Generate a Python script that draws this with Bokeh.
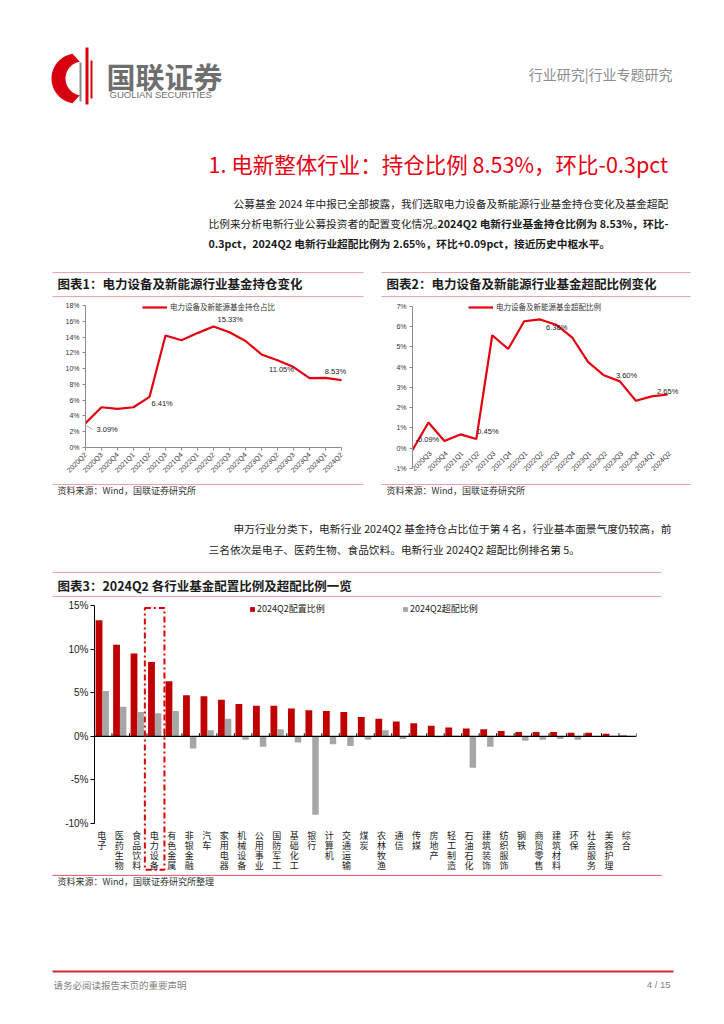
import numpy as np
from bokeh.plotting import figure
from bokeh.models import Range1d, FixedTicker, Legend, LegendItem, ColumnDataSource
from bokeh.layouts import column, row
from bokeh.embed import file_html
from bokeh.resources import INLINE
from bokeh.core.properties import value

# ---------------- data ----------------
quarters = ["2020Q2", "2020Q3", "2020Q4", "2021Q1", "2021Q2", "2021Q3", "2021Q4",
            "2022Q1", "2022Q2", "2022Q3", "2022Q4", "2023Q1", "2023Q2", "2023Q3",
            "2023Q4", "2024Q1", "2024Q2"]
holding = [3.09, 5.1, 4.9, 5.1, 6.41, 14.2, 13.6, 14.5, 15.33, 14.6, 13.5, 11.8,
           11.05, 10.2, 8.8, 8.83, 8.53]
overweight = [-0.09, 1.27, 0.35, 0.68, 0.45, 5.58, 4.9, 6.27, 6.36, 6.1, 5.48, 4.26,
              3.60, 3.3, 2.34, 2.56, 2.65]
holding_labels = {0: "3.09%", 4: "6.41%", 8: "15.33%", 12: "11.05%", 16: "8.53%"}
overweight_labels = {0: "-0.09%", 4: "0.45%", 8: "6.36%", 12: "3.60%", 16: "2.65%"}

industries = ["电子", "医药生物", "食品饮料", "电力设备", "有色金属", "非银金融", "汽车",
              "家用电器", "机械设备", "公用事业", "国防军工", "基础化工", "银行", "计算机",
              "交通运输", "煤炭", "农林牧渔", "通信", "传媒", "房地产", "轻工制造",
              "石油石化", "建筑装饰", "纺织服饰", "钢铁", "商贸零售", "建筑材料", "环保",
              "社会服务", "美容护理", "综合"]
alloc_2024q2 = [13.3, 10.5, 9.5, 8.53, 6.3, 4.7, 4.6, 4.2, 3.7, 3.5, 3.5, 3.2, 3.0, 2.9,
                2.8, 2.2, 2.0, 1.7, 1.5, 1.2, 1.0, 0.9, 0.8, 0.6, 0.5, 0.5, 0.5, 0.4,
                0.4, 0.3, 0.1]
over_2024q2 = [5.2, 3.4, 2.8, 2.65, 2.9, -1.4, 0.7, 2.0, -0.4, -1.2, 0.8, -0.7, -9.0,
               -0.9, -1.1, -0.4, 0.7, -0.3, 0.05, -0.1, 0.05, -3.6, -1.2, 0.05, -0.5,
               -0.4, -0.3, -0.4, -0.05, 0.05, 0.02]
highlight = "电力设备"

# ---------------- style ----------------
RED_LINE = "#E3000F"
BAR_RED = "#C00000"
BAR_GRAY = "#A6A6A6"
PINK = "#E8A3AE"
CJK = "Noto Sans CJK SC"
LAT = "Liberation Sans"
W = 724


def canvas(top, bottom):
    p = figure(width=W, height=bottom - top, x_range=Range1d(0, W),
               y_range=Range1d(bottom, top), x_axis_type=None, y_axis_type=None,
               output_backend="svg", toolbar_location=None, min_border=0,
               frame_align=False)
    p.outline_line_color = None
    p.background_fill_color = "white"
    p.border_fill_color = "white"
    return p


def txt(p, x, y, s, size, color="#1a1a1a", align="left", bold=False, font=CJK):
    p.text(x=[x], y=[y], text=[s], text_font=value(font), text_font_size=f"{size}px",
           text_color=color, text_align=align, text_baseline="middle",
           text_font_style="bold" if bold else "normal")


def hline(p, x0, x1, y, color=PINK, width=1.0):
    p.line([x0, x1], [y, y], line_color=color, line_width=width)


# ---------------- section A: header ----------------
A = canvas(0, 297)
th = np.linspace(np.pi * 0.55, np.pi * 1.45, 48)
ox = 76 + 25 * np.cos(th)
oy = 78 - 25 * np.sin(th)
ix = 82 + 17 * np.cos(th[::-1])
iy = 78 - 17 * np.sin(th[::-1])
A.patch(np.r_[ox, ix], np.r_[oy, iy], fill_color="#D7000F", line_color=None)
A.quad(left=[79, 85, 90], right=[81, 88, 92], top=[62, 47, 60], bottom=[101, 104, 98],
       fill_color=["#8A8A8A", "#D7000F", "#D7000F"], line_color=None)
txt(A, 106, 75, "国联证券", 29, color="#6E6E6E", bold=True)
txt(A, 109, 94, "GUOLIAN SECURITIES", 9.5, color="#6E6E6E", font=LAT)
txt(A, 672, 73, "行业研究|行业专题研究", 14, color="#8C8C8C", align="right")

txt(A, 208, 163, "1. 电新整体行业：持仓比例 8.53%，环比-0.3pct", 21.5, color="#E60012")

txt(A, 233, 203, "公募基金 2024 年中报已全部披露，我们选取电力设备及新能源行业基金持仓变化及基金超配", 10.7)
txt(A, 208, 223, "比例来分析电新行业公募投资者的配置变化情况。", 10.7)
txt(A, 437, 223, "2024Q2 电新行业基金持仓比例为 8.53%，环比-", 10.7, bold=True)
txt(A, 208, 243, "0.3pct，2024Q2 电新行业超配比例为 2.65%，环比+0.09pct，接近历史中枢水平。", 10.7, bold=True)

hline(A, 52, 363, 272)
hline(A, 381, 690, 272)
txt(A, 57, 283, "图表1：电力设备及新能源行业基金持仓变化", 12.5, bold=True)
txt(A, 386, 283, "图表2：电力设备及新能源行业基金超配比例变化", 12.5, bold=True)
hline(A, 52, 363, 296)
hline(A, 381, 690, 296)

# ---------------- chart 1 ----------------
xq = list(range(len(quarters)))
p1 = figure(width=373, height=186, x_range=Range1d(0, 16.5), y_range=Range1d(0, 18.76),
            output_backend="svg", toolbar_location=None, min_border_left=85,
            min_border_right=24, min_border_top=2, min_border_bottom=36,
            frame_align=False)
p1.outline_line_color = None
p1.xgrid.visible = False
p1.ygrid.visible = False
r1 = p1.line(xq, holding, line_color=RED_LINE, line_width=2.2)
p1.yaxis.ticker = FixedTicker(ticks=list(range(0, 19, 2)))
p1.yaxis.major_label_overrides = {v: f"{v}%" for v in range(0, 19, 2)}
p1.yaxis.bounds = (0, 18)
p1.xaxis.ticker = FixedTicker(ticks=xq)
p1.xaxis.major_label_overrides = {i: q for i, q in enumerate(quarters)}
p1.xaxis.major_label_orientation = np.pi / 4
p1.xaxis.bounds = (0, 16)
for ax in (p1.xaxis[0], p1.yaxis[0]):
    ax.major_label_text_font = LAT
    ax.major_label_text_font_size = "7px"
    ax.major_label_text_color = "#333333"
    ax.axis_line_color = "#8C8C8C"
    ax.major_tick_line_color = "#8C8C8C"
    ax.major_tick_in = 0
    ax.major_tick_out = 3
    ax.minor_tick_line_color = None
    ax.major_label_standoff = 3

lab1 = ColumnDataSource(dict(
    x=list(holding_labels.keys()),
    y=[holding[i] for i in holding_labels],
    t=list(holding_labels.values()),
    xo=[11, 2, 4, 4, -6],
    yo=[6, 7, -7, 9, -9],
    al=["left", "left", "left", "center", "center"]))
p1.text(x="x", y="y", text="t", x_offset="xo", y_offset="yo", text_align="al",
        text_baseline="middle", text_font=value(LAT), text_font_size="7.5px",
        text_color="#1a1a1a", source=lab1)
p1.segment(x0=[0.05], y0=[holding[0] - 0.3], x1=[0.45], y1=[holding[0] - 0.8],
           line_color="#A0A0A0", line_width=1)
leg1 = Legend(items=[LegendItem(label="电力设备及新能源基金持仓占比", renderers=[r1])],
              location=(57, 135), padding=0, margin=0, border_line_color=None,
              background_fill_alpha=0, glyph_width=25, glyph_height=8, label_height=8,
              label_standoff=3, label_text_font=CJK, label_text_font_size="7.5px",
              label_text_color="#333333")
p1.add_layout(leg1)

# ---------------- chart 2 ----------------
p2 = figure(width=351, height=186, x_range=Range1d(0, 16.8), y_range=Range1d(-1.45, 7.346),
            output_backend="svg", toolbar_location=None, min_border_left=39,
            min_border_right=44, min_border_top=2, min_border_bottom=6,
            x_axis_location=None, frame_align=False)
p2.outline_line_color = None
p2.xgrid.visible = False
p2.ygrid.visible = False
r2 = p2.line(xq, overweight, line_color=RED_LINE, line_width=2.2)
p2.yaxis.ticker = FixedTicker(ticks=list(range(-1, 8)))
p2.yaxis.major_label_overrides = {v: f"{v}%" for v in range(-1, 8)}
p2.yaxis.bounds = (-1, 7)
ax = p2.yaxis[0]
ax.major_label_text_font = LAT
ax.major_label_text_font_size = "7px"
ax.major_label_text_color = "#333333"
ax.axis_line_color = "#8C8C8C"
ax.major_tick_line_color = "#8C8C8C"
ax.major_tick_in = 0
ax.major_tick_out = 3
ax.major_label_standoff = 3
p2.text(x=xq[1:], y=[0] * (len(xq) - 1), text=quarters[1:], angle=np.pi / 4,
        text_align="right", text_baseline="middle", x_offset=2, y_offset=4,
        text_font=value(LAT), text_font_size="7px", text_color="#333333")
lab2 = ColumnDataSource(dict(
    x=list(overweight_labels.keys()),
    y=[overweight[i] for i in overweight_labels],
    t=list(overweight_labels.values()),
    xo=[3, 1, 6, 12, 0],
    yo=[-10, -8, 8, 0, -3],
    al=["left", "left", "left", "left", "center"]))
p2.text(x="x", y="y", text="t", x_offset="xo", y_offset="yo", text_align="al",
        text_baseline="middle", text_font=value(LAT), text_font_size="7.5px",
        text_color="#1a1a1a", source=lab2)
leg2 = Legend(items=[LegendItem(label="电力设备及新能源基金超配比例", renderers=[r2])],
              location=(56, 165), padding=0, margin=0, border_line_color=None,
              background_fill_alpha=0, glyph_width=25, glyph_height=8, label_height=8,
              label_standoff=3, label_text_font=CJK, label_text_font_size="7.5px",
              label_text_color="#333333")
p2.add_layout(leg2)

# ---------------- section C ----------------
C = canvas(483, 597)
hline(C, 52, 363, 484)
hline(C, 381, 690, 484)
txt(C, 57, 490, "资料来源：Wind，国联证券研究所", 9, color="#333333")
txt(C, 386, 490, "资料来源：Wind，国联证券研究所", 9, color="#333333")
txt(C, 233, 528, "申万行业分类下，电新行业 2024Q2 基金持仓占比位于第 4 名，行业基本面景气度仍较高，前", 10.7)
txt(C, 208, 549, "三名依次是电子、医药生物、食品饮料。电新行业 2024Q2 超配比例排名第 5。", 10.7)
hline(C, 52, 661, 572)
txt(C, 57, 585, "图表3：2024Q2 各行业基金配置比例及超配比例一览", 12.5, bold=True)
hline(C, 52, 661, 596)

# ---------------- chart 3 ----------------
n = len(industries)
xi = np.arange(n)
p3 = figure(width=W, height=277, x_range=Range1d(-0.5, n - 0.5),
            y_range=Range1d(-15.505, 15.573), output_backend="svg",
            toolbar_location=None, min_border_left=94, min_border_right=88,
            min_border_top=3, min_border_bottom=3, x_axis_location=None,
            frame_align=False)
p3.outline_line_color = None
p3.xgrid.visible = False
p3.ygrid.visible = False
rb1 = p3.vbar(x=xi - 0.24, top=alloc_2024q2, width=0.39, fill_color=BAR_RED, line_color=None)
rb2 = p3.vbar(x=xi + 0.14, top=over_2024q2, width=0.37, fill_color=BAR_GRAY, line_color=None)
p3.segment(x0=[-0.5], y0=[0], x1=[n - 0.5], y1=[0], line_color="black", line_width=1.2)
bnd = list(np.arange(-0.5, n, 1.0))
p3.segment(x0=bnd, y0=[0] * len(bnd), x1=bnd, y1=[0.35] * len(bnd),
           line_color="black", line_width=1)
p3.yaxis.ticker = FixedTicker(ticks=[-10, -5, 0, 5, 10, 15])
p3.yaxis.major_label_overrides = {v: f"{v}%" for v in [-10, -5, 0, 5, 10, 15]}
p3.yaxis.bounds = (-10, 15)
ax = p3.yaxis[0]
ax.major_label_text_font = LAT
ax.major_label_text_font_size = "10px"
ax.major_label_text_color = "#1a1a1a"
ax.axis_line_color = "black"
ax.major_tick_line_color = "black"
ax.major_tick_in = 0
ax.major_tick_out = 4
ax.major_label_standoff = 2
p3.text(x=xi - 0.08, y=[-10] * n, text=["\n".join(s) for s in industries],
        text_align="center", text_baseline="top", y_offset=6, text_line_height=0.76,
        text_font=value(CJK), text_font_size="9px", text_color="#1a1a1a")
k = industries.index(highlight)
p3.quad(left=[k - 0.62], right=[k + 0.5], top=[14.7], bottom=[-15.3], fill_alpha=0,
        line_color="#E00000", line_width=2, line_dash="6 3 2 3")
lg_a = Legend(items=[LegendItem(label="2024Q2配置比例", renderers=[rb1])],
              location=(155, 256), padding=0, margin=0, border_line_color=None,
              background_fill_alpha=0, glyph_width=6, glyph_height=6, label_height=10,
              label_standoff=2, label_text_font=CJK, label_text_font_size="9px",
              label_text_color="#1a1a1a")
lg_b = Legend(items=[LegendItem(label="2024Q2超配比例", renderers=[rb2])],
              location=(308, 256), padding=0, margin=0, border_line_color=None,
              background_fill_alpha=0, glyph_width=6, glyph_height=6, label_height=10,
              label_standoff=2, label_text_font=CJK, label_text_font_size="9px",
              label_text_color="#1a1a1a")
p3.add_layout(lg_a)
p3.add_layout(lg_b)

# ---------------- section E: footer ----------------
E = canvas(874, 1024)
hline(E, 52, 661, 874.8, color="#DC6A7A", width=1.2)
txt(E, 57, 881, "资料来源：Wind，国联证券研究所整理", 9, color="#333333")
hline(E, 52, 673, 971, color="#D7282F", width=2)
txt(E, 53, 984, "请务必阅读报告末页的重要声明", 9.5, color="#808080")
txt(E, 670, 984, "4 / 15", 9.5, color="#808080", align="right", font=LAT)

page = column(A, row(p1, p2), C, p3, E)
open("out.html", "w").write(file_html(page, INLINE))
